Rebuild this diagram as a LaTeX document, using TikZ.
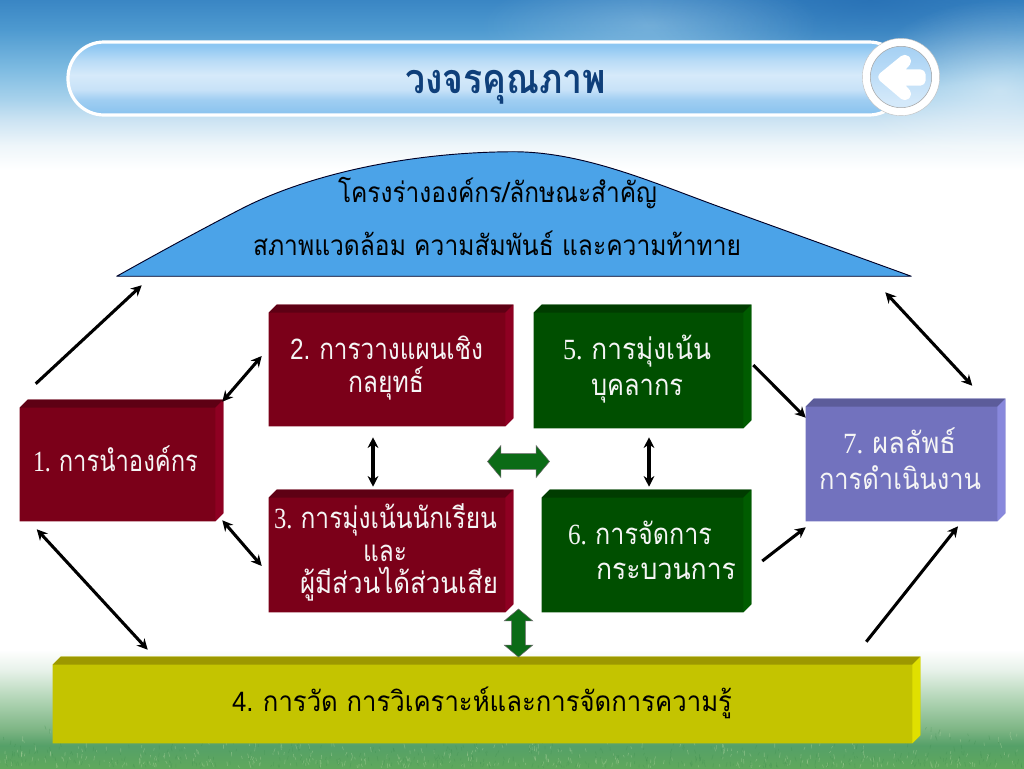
\documentclass[tikz,border=0pt]{standalone}
\usepackage{fontspec}
\usepackage{graphicx}
\usetikzlibrary{calc,fit,arrows.meta,shapes.arrows,fadings}
\newfontfamily\thaif[Script=Thai]{Loma}
\newfontfamily\serifdig{Liberation Serif}
\newfontfamily\sansdig{Liberation Sans}
\definecolor{redF}{HTML}{7B0019}\definecolor{redT}{HTML}{5E0014}\definecolor{redS}{HTML}{8E0022}
\definecolor{grnF}{HTML}{004F00}\definecolor{grnT}{HTML}{003C00}\definecolor{grnS}{HTML}{005C00}
\definecolor{purF}{HTML}{7272BE}\definecolor{purT}{HTML}{5C5C9A}\definecolor{purS}{HTML}{8888DC}
\definecolor{yelF}{HTML}{C4C400}\definecolor{yelT}{HTML}{9C9800}\definecolor{yelS}{HTML}{E0E000}
\definecolor{hillC}{HTML}{4BA3E8}
\definecolor{navy}{HTML}{0F3F7A}
\definecolor{blockG}{HTML}{0B6B16}
\definecolor{sa}{HTML}{EEF6FA}\definecolor{sb}{HTML}{CDE4F3}\definecolor{sc}{HTML}{A8D2EC}\definecolor{sd}{HTML}{7FBCE2}\definecolor{se}{HTML}{4E9AD0}\definecolor{sf}{HTML}{3A86C4}
\definecolor{ga}{HTML}{5FA85C}\definecolor{gb}{HTML}{55A068}\definecolor{gc}{HTML}{7DB584}\definecolor{gd}{HTML}{B0D4B4}\definecolor{ge}{HTML}{E8F2EA}
\definecolor{ba}{HTML}{88C2EE}\definecolor{bb}{HTML}{A0CEF2}\definecolor{bc}{HTML}{C8E2F8}\definecolor{bd}{HTML}{D6EAFA}\definecolor{be}{HTML}{B8DBF6}\definecolor{bf}{HTML}{8CC6F2}
\definecolor{bta}{HTML}{D4E9FA}\definecolor{btb}{HTML}{A8D2F4}
\definecolor{cloudD}{HTML}{1F66AE}
\definecolor{grassL}{HTML}{D2E8B8}\definecolor{grassD}{HTML}{3A8A4C}
\tikzfading[name=softcloud,inner color=transparent!0,outer color=transparent!100]
\pgfdeclareverticalshading{skybg}{100bp}{
  color(0bp)=(white);
  color(26.5bp)=(white);
  color(33.5bp)=(sa);
  color(40.5bp)=(sb);
  color(46.5bp)=(sc);
  color(55bp)=(sd);
  color(66.5bp)=(se);
  color(75bp)=(sf);
  color(100bp)=(sf)}
\pgfdeclareverticalshading{grassbg}{100bp}{
  color(0bp)=(ga);
  color(25bp)=(ga);
  color(33.5bp)=(gb);
  color(39.5bp)=(gc);
  color(50.5bp)=(gd);
  color(62bp)=(ge);
  color(69.5bp)=(white);
  color(100bp)=(white)}
\pgfdeclareverticalshading{barshade}{100bp}{
  color(0bp)=(ba);
  color(25bp)=(ba);
  color(35.5bp)=(bb);
  color(42.5bp)=(bc);
  color(52.5bp)=(bd);
  color(62.5bp)=(be);
  color(72.5bp)=(bf);
  color(100bp)=(bf)}
\pgfdeclareverticalshading{btnshade}{100bp}{
  color(0bp)=(bta);
  color(30bp)=(bta);
  color(72bp)=(btb);
  color(100bp)=(btb)}
\newsavebox{\wtbox}
\newcommand{\wtext}[2]{\sbox{\wtbox}{#2}\pgfmathsetmacro{\wtr}{(#1)*0.75/\the\wd\wtbox}\scalebox{\wtr}[1]{\usebox{\wtbox}}}
% name, x1, x2, baseline y, style, text
\newcommand{\tline}[6]{\node[anchor=base,inner sep=0pt,#5] (#1) at ({(#2+#3)/2},#4) {\wtext{#3-#2}{#6}};}
% name,x1,y1,x2,y2,front,top,side
\newcommand{\bevelbox}[8]{%
  \node[fit={(#2,#3)(#4,#5)},inner sep=0pt] (#1) {};
  \fill[#6] ($(#1.north west)+(0,8)$) -- ($(#1.north west)+(8,0)$) -- (#1.north east) -- ($(#1.south east)+(0,-8)$) -- ($(#1.south east)+(-8,0)$) -- (#1.south west) -- cycle;
  \fill[#7] ($(#1.north west)+(8,0)$) -- (#1.north east) -- ($(#1.north east)+(-8,8)$) -- ($(#1.north west)+(0,8)$) -- cycle;
  \fill[#8] (#1.north east) -- ($(#1.south east)+(0,-8)$) -- ($(#1.south east)+(-8,0)$) -- ($(#1.north east)+(-8,8)$) -- cycle;
}
\tikzset{
  conn/.style={draw=black,line width=2.3pt,-{Stealth[length=8pt,width=8pt]}},
  conntwo/.style={draw=black,line width=2.3pt,{Stealth[length=8pt,width=8pt]}-{Stealth[length=8pt,width=8pt]}},
  blockarrow/.style={double arrow,draw=black!60,line width=0.4pt,fill=blockG,inner sep=5.5pt,double arrow tip angle=100,double arrow head extend=6pt,anchor=center},
  onred/.style={font=\thaif\fontsize{22}{26}\selectfont,text=white!96!black},
  onblack/.style={font=\thaif\fontsize{21}{25}\selectfont,text=black},
  titletext/.style={font=\thaif\bfseries\fontsize{31}{36}\selectfont,text=navy},
}
\begin{document}
\begin{tikzpicture}[x=0.75pt,y=-0.75pt]
\useasboundingbox (0,0) rectangle (1024,768);
% background
\fill[white] (0,0) rectangle (1024,768);
\begin{scope}
\clip (0,0) rectangle (1024,768);
\shade[shading=skybg] (0,0) rectangle (1024,175);
\shade[shading=grassbg] (0,635) rectangle (1024,768);
\fill[cloudD,opacity=.6,path fading=softcloud] (640,-90) rectangle (1100,90);
\fill[white,opacity=.45,path fading=softcloud] (860,0) rectangle (1140,180);
\fill[white,opacity=.22,path fading=softcloud] (480,-30) rectangle (820,80);
\pgfmathsetseed{7}
\foreach \i in {1,...,900}{
  \pgfmathsetmacro{\gx}{rnd*1024}
  \pgfmathsetmacro{\gy}{768-50*rnd*rnd}
  \pgfmathsetmacro{\gl}{2+rnd*3}
  \pgfmathsetmacro{\gs}{rnd*3-1.5}
  \ifodd\i
    \draw[grassL,opacity=.3,line width=.45pt] (\gx,\gy) -- ++(\gs,-\gl);
  \else
    \draw[grassD,opacity=.3,line width=.45pt] (\gx,\gy) -- ++(\gs,-\gl);
  \fi
}
\end{scope}
% title bar
\node[fit={(68,42)(905,115)},inner sep=0pt,rounded corners=27pt,draw=white,line width=2.4pt,shading=barshade] (bar) {};
\tline{title}{405}{606}{93}{titletext}{วงจรคุณภาพ}
\node[circle,minimum size=58pt,inner sep=0pt,draw=black!25,line width=.3pt,fill=white] (btn) at (901,77) {};
\node[circle,minimum size=46pt,inner sep=0pt,draw=black!35,line width=.4pt,shading=btnshade] (btnin) at (btn.center) {};
\fill[white,draw=white,line width=2.5pt,line join=round,rounded corners=3pt] (878,77) -- (905,55) -- (911,61) -- (902,71) -- (924,71) -- (924,84) -- (902,84) -- (911,94) -- (905,100) -- cycle;
% hill
\node[fit={(117,152)(911,276)},inner sep=0pt] (hill) {};
\draw[fill=hillC,draw=black!85!blue,line width=0.7pt,line join=round] (hill.south west) .. controls (160,252) and (205,227.5) .. (243,208) .. controls (310,174) and (410,152) .. (hill.north) .. controls (585,152) and (655,183.5) .. (720,207) .. controls (785,230.5) and (850,254) .. (hill.south east) -- cycle;
\tline{hilla}{338}{657}{202}{onblack}{โครงร่างองค์กร/ลักษณะสำคัญ}
\tline{hillb}{253}{741}{255}{onblack}{สภาพแวดล้อม ความสัมพันธ์ และความท้าทาย}
% boxes
\bevelbox{b1}{20}{400}{223}{521}{redF}{redT}{redS}
\bevelbox{b2}{269}{305}{513}{426}{redF}{redT}{redS}
\bevelbox{b3}{269}{490}{513}{612}{redF}{redT}{redS}
\bevelbox{b5}{534}{305}{751}{428}{grnF}{grnT}{grnS}
\bevelbox{b6}{542}{490}{751}{612}{grnF}{grnT}{grnS}
\bevelbox{b7}{806}{399}{1005}{521}{purF}{purT}{purS}
\bevelbox{b4}{53}{657}{920}{743}{yelF}{yelT}{yelS}
% box text
\tline{t1}{33}{198}{471}{onred}{{\serifdig 1. }การนำองค์กร}
\tline{t2a}{290}{483}{359}{onred}{{\sansdig 2. }การวางแผนเชิง}
\tline{t2b}{348}{424}{392}{onred}{กลยุทธ์}
\tline{t3a}{274}{497}{528}{onred}{{\serifdig 3. }การมุ่งเน้นนักเรียน}
\tline{t3b}{363}{407}{561}{onred}{และ}
\tline{t3c}{300}{498}{593}{onred}{ผู้มีส่วนได้ส่วนเสีย}
\tline{t5a}{563}{711}{359}{onred}{{\serifdig 5. }การมุ่งเน้น}
\tline{t5b}{591}{683}{395}{onred}{บุคลากร}
\tline{t6a}{568}{712}{544}{onred}{{\serifdig 6. }การจัดการ}
\tline{t6b}{596}{736}{579}{onred}{กระบวนการ}
\tline{t7a}{843}{956}{453}{onred}{{\serifdig 7. }ผลลัพธ์}
\tline{t7b}{819}{981}{489}{onred}{การดำเนินงาน}
\tline{t4}{232}{732}{711}{onblack}{{\sansdig 4. }การวัด การวิเคราะห์และการจัดการความรู้}
% connectors
\draw[conn] ($(b1.north west)+(16,-16)$) -- ($(hill.south west)+(25,9)$);
\draw[conntwo] ($(b1.north east)+(-1,2)$) -- ($(b2.west)+(-7,-9.5)$);
\draw[conntwo] ($(b1.south east)+(-1,-1)$) -- ($(b3.west)+(-7,15)$);
\draw[conntwo] ($(b2.south)+(-18,11)$) -- ($(b3.north)+(-18,-3)$);
\draw[conntwo] ($(b1.south west)+(17,8)$) -- ($(b4.north west)+(95,-7)$);
\draw[conntwo] ($(b5.south)+(6.5,9)$) -- ($(b6.north)+(2.5,-3)$);
\draw[conn] ($(b5.east)+(2,-1.5)$) -- ($(b7.north west)+(0,19)$);
\draw[conn] ($(b6.east)+(11,10)$) -- ($(b7.south west)+(0,6)$);
\draw[conntwo] ($(hill.south east)+(-26,16)$) -- ($(b7.north east)+(-33,-13)$);
\draw[conn] ($(b4.north east)+(-54,-15)$) -- ($(b7.south)+(52.5,5)$);
% block arrows
\node[blockarrow,minimum height=46.5pt,minimum width=24pt] (arrowh) at (518.5,461.5) {};
\node[blockarrow,rotate=90,minimum height=36pt,minimum width=21pt,inner sep=5pt,double arrow head extend=5.5pt] (arrowv) at (518.5,633) {};
\end{tikzpicture}
\end{document}
